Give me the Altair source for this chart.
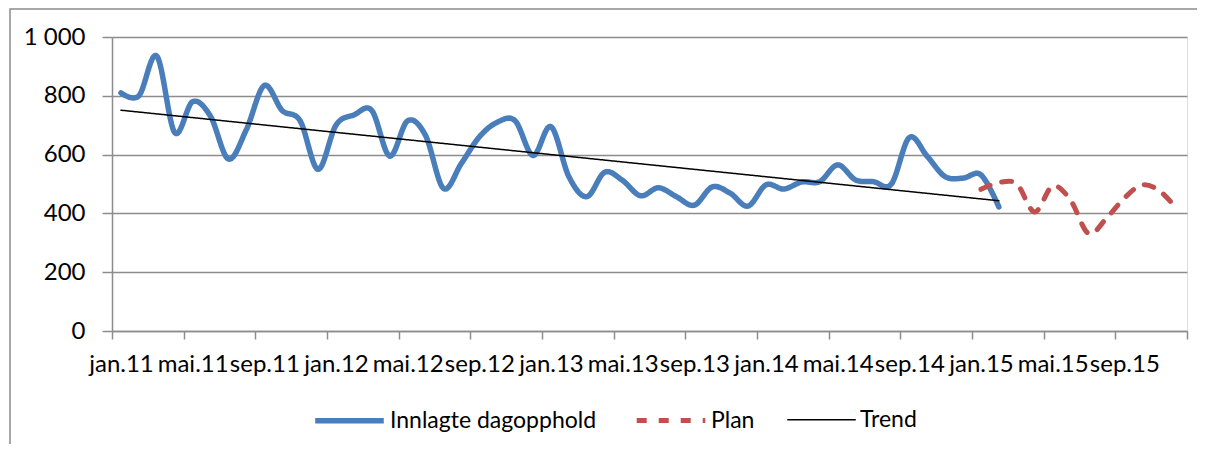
import altair as alt
import pandas as pd

# ---- data ----
tick_labels = ['jan.11', 'mai.11', 'sep.11', 'jan.12', 'mai.12', 'sep.12', 'jan.13',
               'mai.13', 'sep.13', 'jan.14', 'mai.14', 'sep.14', 'jan.15', 'mai.15', 'sep.15']
n_months = 60  # jan.11 .. des.15

# Innlagte dagopphold, jan.11 .. feb.15 (month index 0..49)
actual = [810, 800, 935, 675, 780, 730, 585, 685, 835, 750,
          715, 550, 700, 735, 750, 595, 715, 665, 485, 570,
          660, 710, 715, 597, 695, 525, 457, 540, 512, 460,
          487, 457, 428, 490, 469, 425, 497, 483, 507, 508,
          565, 514, 508, 500, 658, 594, 525, 520, 531, 422]
# Plan, jan.15 .. des.15 (month index 48..59)
plan_start = 48
plan = [482, 505, 500, 405, 493, 445, 332, 383, 452, 497, 475, 410]
# Trend line end points
trend_months = [0, 49]
trend_values = [751, 443]

series_names = ['Innlagte dagopphold', 'Plan', 'Trend']
series_colors = ['#4A7EBB', '#C0504D', '#000000']
series_widths = [5.5, 5, 1.5]
series_dash = [[1, 0], [10, 12], [1, 0]]

rows = []
for i, v in enumerate(actual):
    rows.append({'m': i, 'v': v, 's': series_names[0]})
for i, v in enumerate(plan):
    rows.append({'m': plan_start + i, 'v': v, 's': series_names[1]})
for m, v in zip(trend_months, trend_values):
    rows.append({'m': m, 'v': v, 's': series_names[2]})
df = pd.DataFrame(rows)

FONT = 'Lato'
GRAY = '#8C8C8C'

label_arr = '[' + ','.join("'" + t + "'" for t in tick_labels) + ']'
x_vals = [-0.5 + 4 * k for k in range(n_months // 4 + 1)]

x = alt.X('m:Q',
          scale=alt.Scale(domain=[-0.5, n_months - 0.5], nice=False, zero=False),
          axis=alt.Axis(values=x_vals, title=None, grid=False,
                        labelExpr=label_arr + "[round((datum.value + 0.5) / 4)] || ''",
                        labelOffset=9, labelPadding=13, tickSize=8,
                        tickColor=GRAY, domainColor=GRAY, tickWidth=1.5, domainWidth=1.5,
                        labelFont=FONT, labelFontSize=24, labelColor='#000000',
                        labelOverlap=False, labelFlush=False, labelBound=False))
y = alt.Y('v:Q',
          scale=alt.Scale(domain=[0, 1000], nice=False),
          axis=alt.Axis(values=[0, 200, 400, 600, 800, 1000], title=None,
                        labelExpr="replace(format(datum.value, ','), ',', ' ')",
                        tickSize=10, labelPadding=17,
                        tickColor=GRAY, domainColor=GRAY, gridColor=GRAY,
                        tickWidth=1.5, domainWidth=1.5, gridWidth=1.5,
                        labelFont=FONT, labelFontSize=24, labelColor='#000000'))


def legend():
    return alt.Legend(title=None, orient='none', legendX=200, legendY=346,
                      direction='horizontal', symbolType='stroke',
                      symbolSize=4700, labelFont=FONT, labelFontSize=23,
                      labelColor='#000000', labelOffset=3, labelLimit=400,
                      columnPadding=29, padding=0)


lines = alt.Chart(df).mark_line(interpolate='cardinal', strokeCap='round').encode(
    x=x, y=y,
    color=alt.Color('s:N', scale=alt.Scale(domain=series_names, range=series_colors),
                    legend=legend()),
    strokeDash=alt.StrokeDash('s:N', scale=alt.Scale(domain=series_names, range=series_dash),
                              legend=legend()),
    strokeWidth=alt.StrokeWidth('s:N', scale=alt.Scale(type='ordinal', domain=series_names,
                                                       range=series_widths),
                                legend=legend()),
    order='m:Q'
)

border = alt.Chart(pd.DataFrame({'a': [0]})).mark_rect(
    fill=None, stroke=GRAY, strokeWidth=1.5
).encode(x=alt.value(-102), x2=alt.value(1300), y=alt.value(-28), y2=alt.value(600))

chart = alt.layer(border, lines).properties(
    width=1075, height=294,
    autosize=alt.AutoSizeParams(type='none'),
    padding={'left': 104, 'top': 29, 'right': 10, 'bottom': 113}
).configure_view(stroke=None).configure(background='white')

chart.save('out.html', embed_options={'renderer': 'svg', 'actions': False})
